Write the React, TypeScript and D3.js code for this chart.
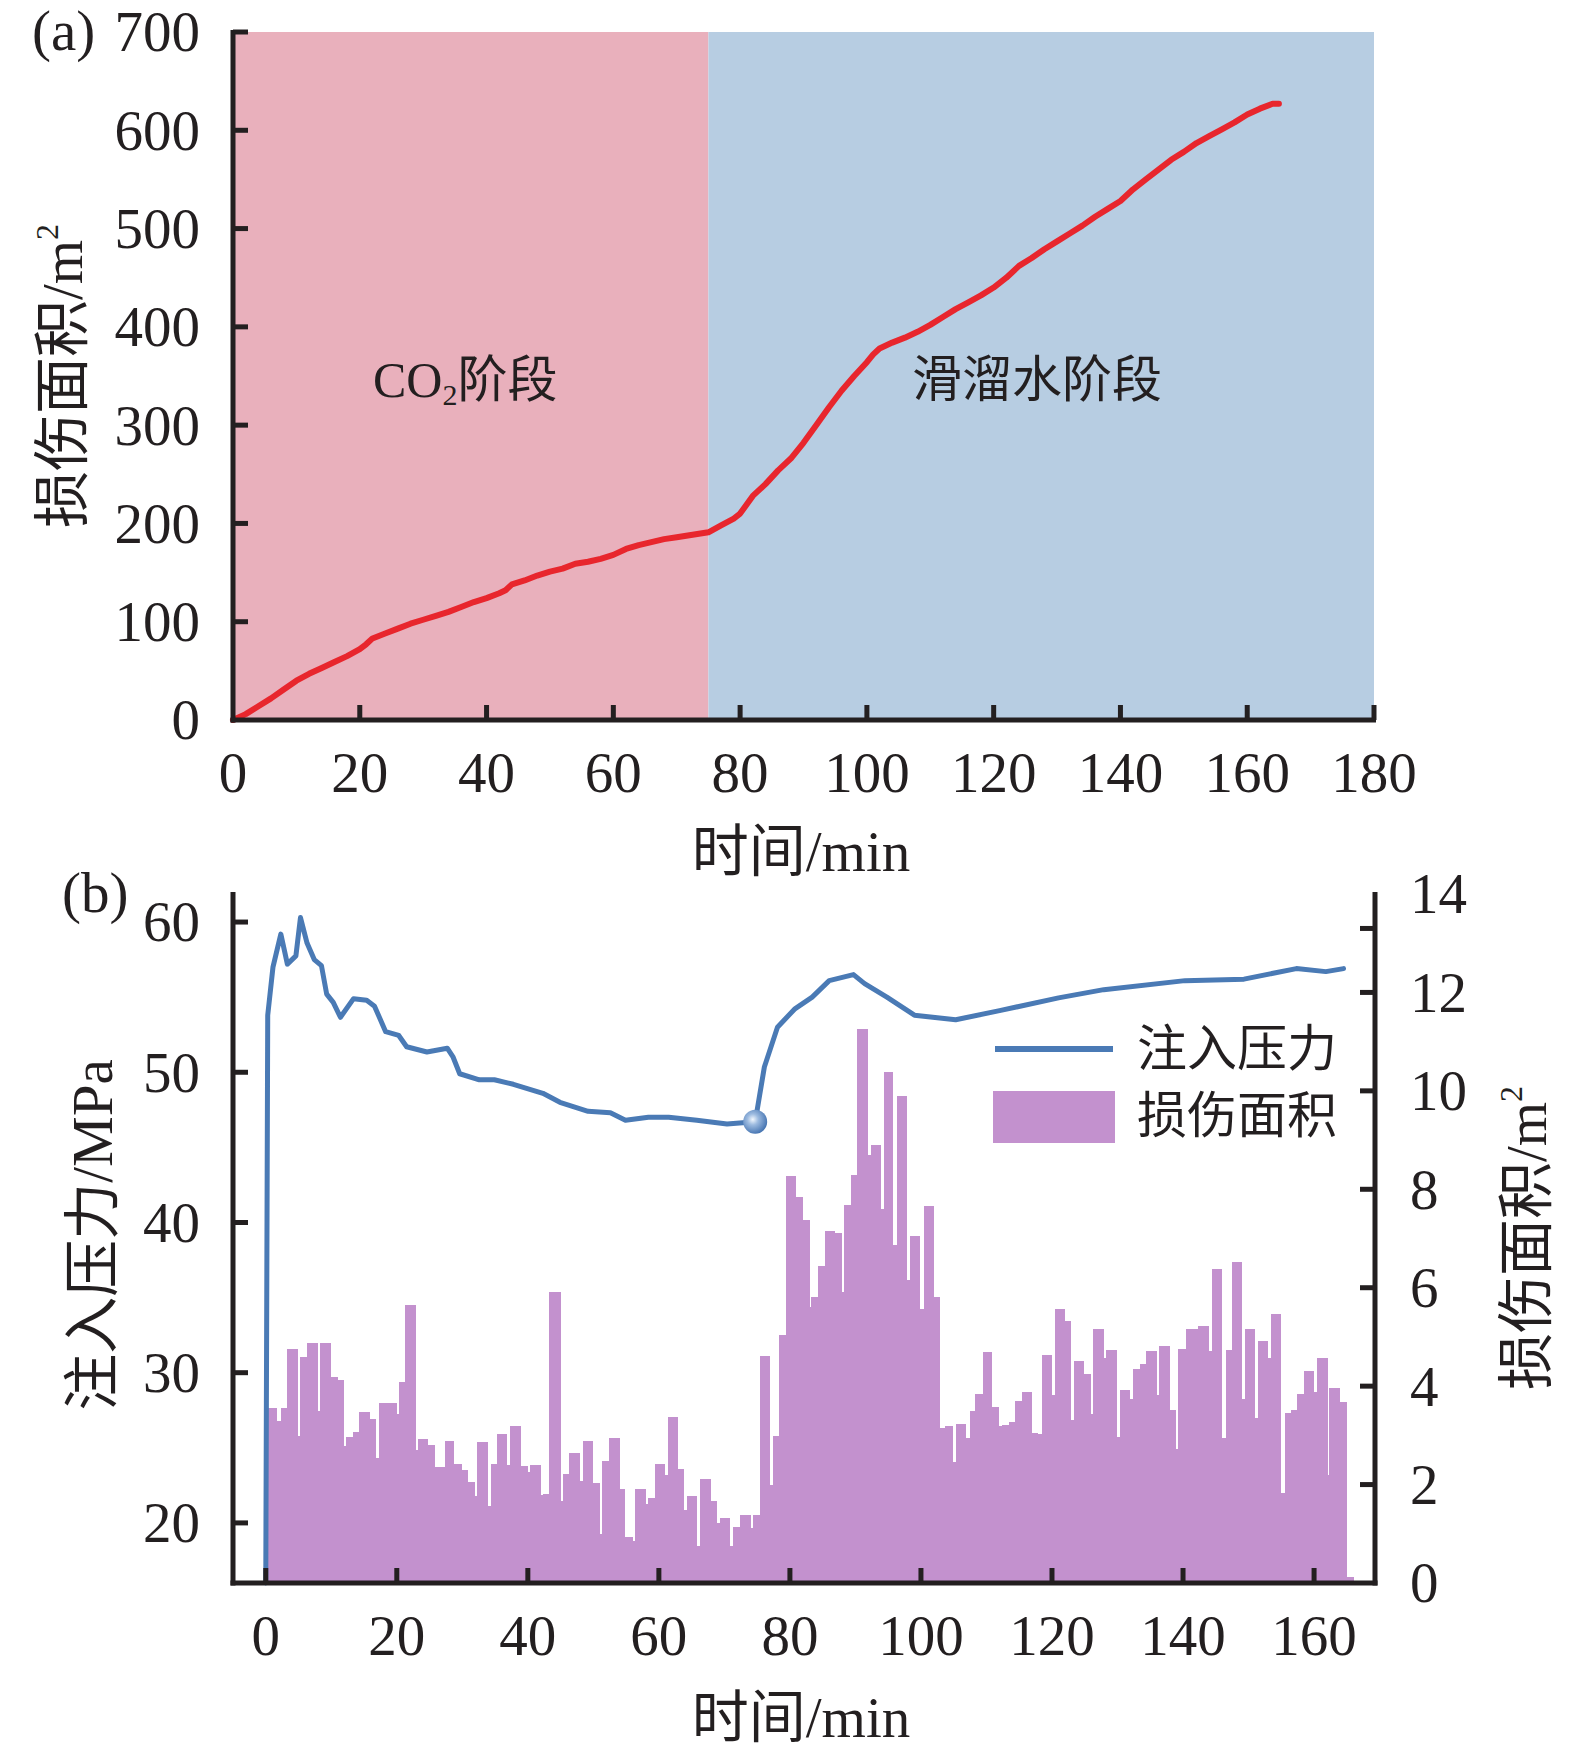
import React from "react";
import * as d3 from "d3";

// ---- Panel (a): cumulative damage area vs time ----
const areaTime = [0, 2, 4, 6, 8, 10, 12, 14, 16, 18, 20, 21, 22, 24, 26, 28, 30, 32, 34, 36, 38, 40, 42, 43, 44, 46, 48, 50, 52, 54, 56, 58, 60, 62, 64, 66, 68, 70, 72, 75, 77, 79, 80, 82, 84, 86, 88, 90, 92, 94, 96, 98, 100, 101, 102, 104, 106, 108, 110, 112, 114, 116, 118, 120, 122, 124, 126, 128, 130, 132, 134, 136, 138, 140, 142, 144, 146, 148, 150, 152, 154, 156, 158, 160, 162, 164, 165];
const areaValue = [0, 6, 14, 22, 31, 40, 47, 53, 59, 65, 72, 77, 83, 88, 93, 98, 102, 106, 110, 115, 120, 124, 129, 132, 138, 142, 147, 151, 154, 159, 161, 164, 168, 174, 178, 181, 184, 186, 188, 191, 198, 205, 210, 228, 240, 254, 266, 282, 300, 318, 335, 350, 364, 372, 378, 384, 389, 395, 402, 410, 418, 425, 432, 440, 450, 462, 470, 479, 487, 495, 503, 512, 520, 528, 540, 550, 560, 570, 578, 587, 594, 601, 608, 616, 622, 627, 627];
const topXTicks = [0, 20, 40, 60, 80, 100, 120, 140, 160, 180];
const topYTicks = [0, 100, 200, 300, 400, 500, 600, 700];
const stageBoundary = 75;

// ---- Panel (b): injection pressure & damage area per step ----
const pressureTime = [0, 0.3, 1.1, 2.3, 3.3, 4.6, 5.3, 6.3, 7.4, 8.5, 9.3, 10.3, 11.4, 13.4, 15.4, 16.6, 18.3, 20.3, 21.5, 24.6, 27.7, 28.6, 29.6, 32.6, 34.9, 37.8, 42.3, 44.9, 49.2, 52.6, 54.9, 58.4, 61.5, 65.8, 70.4, 74.7, 76.1, 78.1, 80.7, 83.4, 86, 89.7, 91.4, 94.8, 99, 105.3, 112, 121, 127.9, 140.3, 149.3, 157.3, 161.8, 164.5];
const pressureValue = [16, 53.8, 57, 59.2, 57.2, 57.75, 60.3, 58.6, 57.5, 57.1, 55.2, 54.65, 53.66, 54.9, 54.8, 54.4, 52.7, 52.45, 51.7, 51.35, 51.6, 51.0, 49.9, 49.5, 49.5, 49.2, 48.6, 48.0, 47.4, 47.3, 46.8, 47.0, 47.0, 46.8, 46.55, 46.7, 50.35, 53.0, 54.2, 55.0, 56.1, 56.5, 55.9, 55.0, 53.8, 53.5, 54.1, 54.95, 55.5, 56.1, 56.2, 56.9, 56.7, 56.9];
const markerTime = 74.7;
const markerValue = 46.7;

const damageEdges = [0, 1.7, 2.3, 3.3, 4.8, 5.2, 6.3, 7.9, 8.3, 9.8, 10.9, 11.8, 12.3, 13.3, 14.2, 15.8, 16.8, 17.3, 19.9, 20.3, 21.3, 22.8, 23.2, 24.7, 25.8, 27.4, 28.7, 29.8, 30.8, 31.8, 32.3, 33.9, 34.4, 35.3, 36.8, 37.3, 38.8, 39.9, 40.3, 41.9, 42.3, 43.2, 44.9, 45.3, 46.3, 47.8, 48.4, 49.8, 50.9, 51.3, 52.4, 53.9, 54.8, 55.9, 56.4, 57.9, 58.3, 59.4, 60.9, 61.4, 62.9, 63.8, 64.3, 65.8, 66.3, 67.9, 68.8, 69.3, 70.8, 71.3, 72.4, 73.9, 74.3, 75.4, 76.8, 77.4, 78.3, 79.4, 80.9, 81.9, 82.9, 83.2, 84.3, 85.3, 86.8, 87.8, 88.3, 89.3, 90.3, 91.8, 92.3, 93.8, 94.3, 95.7, 96.3, 97.8, 98.4, 99.7, 100.4, 101.9, 102.8, 103.7, 104.8, 105.3, 106.8, 107.5, 108.3, 109.4, 110.8, 111.8, 112.4, 113.4, 114.3, 115.4, 116.8, 117.8, 118.4, 119.9, 120.4, 121.9, 122.8, 123.4, 124.8, 125.8, 126.3, 127.8, 128.3, 129.8, 130.4, 131.8, 132.4, 133.4, 134.4, 135.9, 136.4, 137.9, 138.8, 139.3, 140.4, 142.3, 143.9, 144.4, 145.9, 146.5, 147.4, 148.9, 149.4, 150.9, 151.4, 152.9, 153.4, 154.9, 155.5, 156.5, 157.4, 158.4, 159.9, 160.4, 162.0, 162.3, 163.9, 165.0, 166.0];
const damageValues = [3.55, 3.29, 3.55, 4.76, 2.99, 4.59, 4.88, 3.5, 4.88, 4.18, 4.13, 2.79, 2.97, 3.07, 3.47, 3.33, 2.55, 3.65, 3.43, 4.08, 5.64, 2.71, 2.92, 2.81, 2.35, 2.89, 2.42, 2.30, 2.06, 1.76, 2.87, 1.56, 2.42, 3.03, 2.40, 3.19, 2.38, 2.26, 2.40, 1.78, 1.80, 5.92, 1.66, 2.22, 2.65, 2.08, 2.89, 2.03, 0.99, 2.48, 2.95, 1.92, 0.93, 0.86, 1.90, 1.60, 1.72, 2.42, 2.20, 3.37, 2.32, 1.49, 1.76, 0.75, 2.12, 1.66, 1.21, 1.33, 0.75, 1.13, 1.39, 1.11, 1.39, 4.61, 2.00, 2.99, 5.04, 8.28, 7.84, 7.37, 5.6, 5.81, 6.44, 7.15, 7.11, 5.92, 7.68, 8.30, 11.26, 8.70, 8.89, 7.59, 10.39, 6.86, 9.90, 6.16, 7.05, 5.56, 7.66, 5.81, 3.15, 3.20, 2.46, 3.23, 2.95, 3.49, 3.84, 4.70, 3.57, 3.19, 3.21, 3.28, 3.69, 3.89, 3.04, 3.03, 4.64, 3.82, 5.56, 5.33, 3.32, 4.52, 4.24, 3.43, 5.16, 4.58, 4.74, 2.97, 3.92, 3.74, 4.34, 4.45, 4.71, 3.83, 4.81, 3.51, 2.72, 4.75, 5.16, 5.23, 4.71, 6.38, 2.94, 4.73, 6.53, 3.74, 5.16, 3.36, 4.92, 4.58, 5.47, 1.82, 3.45, 3.51, 3.84, 4.30, 3.89, 4.57, 2.19, 3.96, 3.68, 0.12];
const botXTicks = [0, 20, 40, 60, 80, 100, 120, 140, 160];
const leftTicks = [20, 30, 40, 50, 60];
const rightLabels = [0, 2, 4, 6, 8, 10, 12, 14];
const rightTickMarks = [2, 4, 6, 8, 10, 12, 13.3];

const W = 1575;
const H = 1747;
const SERIF = "'Liberation Serif', 'Times New Roman', 'Noto Sans CJK SC', serif";
const AX = "#231f20";
const FS = 57;

export default function App() {
  // panel a scales
  const xa = d3.scaleLinear().domain([0, 180]).range([233, 1374]);
  const ya = d3.scaleLinear().domain([0, 700]).range([720, 32]);
  // panel b scales
  const xb = d3.scaleLinear().domain([-5, 169.3]).range([233, 1375]);
  const yl = d3.scaleLinear().domain([16, 62]).range([1583, 892]);
  const yr = d3.scaleLinear().domain([0, 14]).range([1583, 894]);

  const areaLine = d3
    .line<number>()
    .x((_, i) => xa(areaTime[i]))
    .y((d) => ya(d))(areaValue) as string;

  const pressLine = d3
    .line<number>()
    .x((_, i) => xb(pressureTime[i]))
    .y((d) => yl(d))(pressureValue) as string;

  const tickLen = 15;
  const axW = 5;

  return (
    <svg
      width={W}
      height={H}
      viewBox={`0 0 ${W} ${H}`}
      style={{ position: "absolute", left: 0, top: 0, display: "block", background: "#fff" }}
      fontFamily={SERIF}
    >
      <defs>
        <radialGradient id="ball" cx="40%" cy="40%" r="65%">
          <stop offset="0%" stopColor="#f2f7fd" />
          <stop offset="35%" stopColor="#9dbbe0" />
          <stop offset="100%" stopColor="#3f6fae" />
        </radialGradient>
      </defs>

      {/* ===== Panel (a) ===== */}
      <rect x={xa(0)} y={ya(700)} width={xa(stageBoundary) - xa(0)} height={ya(0) - ya(700)} fill="#e9b0bc" />
      <rect x={xa(stageBoundary)} y={ya(700)} width={xa(180) - xa(stageBoundary)} height={ya(0) - ya(700)} fill="#b7cde2" />
      <path d={areaLine} fill="none" stroke="#e8262d" strokeWidth={6} strokeLinejoin="round" strokeLinecap="round" />

      {/* axes a */}
      <line x1={xa(0)} y1={ya(700) - 2} x2={xa(0)} y2={ya(0) + axW / 2} stroke={AX} strokeWidth={axW} />
      <line x1={xa(0) - axW / 2} y1={ya(0)} x2={xa(180) + 2} y2={ya(0)} stroke={AX} strokeWidth={axW} />
      {topYTicks.map((t) => (
        <g key={"ya" + t}>
          {t > 0 && <line x1={xa(0)} x2={xa(0) + tickLen} y1={ya(t)} y2={ya(t)} stroke={AX} strokeWidth={axW} />}
          <text x={200} y={ya(t)} dy="0.34em" textAnchor="end" fontSize={FS} fill={AX}>
            {t}
          </text>
        </g>
      ))}
      {topXTicks.map((t) => (
        <g key={"xa" + t}>
          {t > 0 && <line x1={xa(t)} x2={xa(t)} y1={ya(0)} y2={ya(0) - tickLen} stroke={AX} strokeWidth={axW} />}
          <text x={xa(t)} y={792} textAnchor="middle" fontSize={FS} fill={AX}>
            {t}
          </text>
        </g>
      ))}
      <text x={32} y={50} fontSize={FS} fill={AX}>(a)</text>
      <text
        transform={`translate(62,376) rotate(-90)`}
        textAnchor="middle"
        dominantBaseline="central"
        fontSize={FS}
        fill={AX}
      >
        损伤面积/m<tspan fontSize={32} dy={-15}>2</tspan>
      </text>
      <text x={373} y={397} fontSize={50} fill={AX}>
        CO<tspan fontSize={30} dy={8}>2</tspan>
        <tspan dy={-8}>阶段</tspan>
      </text>
      <text x={912} y={397} fontSize={50} fill={AX}>滑溜水阶段</text>
      <text x={801} y={851} textAnchor="middle" dominantBaseline="central" fontSize={FS} fill={AX}>
        时间/min
      </text>

      {/* ===== Panel (b) ===== */}
      <g shapeRendering="crispEdges">
        {damageValues.map((v, i) => (
          <rect
            key={"bar" + i}
            x={xb(damageEdges[i])}
            y={yr(v)}
            width={xb(damageEdges[i + 1]) - xb(damageEdges[i]) + 0.6}
            height={yr(0) - yr(v)}
            fill="#c391ce"
          />
        ))}
      </g>
      <path d={pressLine} fill="none" stroke="#4a7ab5" strokeWidth={5} strokeLinejoin="round" strokeLinecap="round" />
      <circle cx={xb(markerTime)} cy={yl(markerValue)} r={12} fill="url(#ball)" />

      {/* axes b */}
      <line x1={233} y1={892} x2={233} y2={1583 + axW / 2} stroke={AX} strokeWidth={axW} />
      <line x1={1375} y1={892} x2={1375} y2={1583 + axW / 2} stroke={AX} strokeWidth={axW} />
      <line x1={233 - axW / 2} y1={1583} x2={1375 + axW / 2} y2={1583} stroke={AX} strokeWidth={axW} />
      {leftTicks.map((t) => (
        <g key={"yl" + t}>
          <line x1={233} x2={233 + tickLen} y1={yl(t)} y2={yl(t)} stroke={AX} strokeWidth={axW} />
          <text x={200} y={yl(t)} dy="0.34em" textAnchor="end" fontSize={FS} fill={AX}>
            {t}
          </text>
        </g>
      ))}
      {rightTickMarks.map((t) => (
        <line key={"yrt" + t} x1={1375} x2={1375 - tickLen} y1={yr(t)} y2={yr(t)} stroke={AX} strokeWidth={axW} />
      ))}
      {rightLabels.map((t) => (
        <text key={"yrl" + t} x={1410} y={yr(t)} dy="0.34em" textAnchor="start" fontSize={FS} fill={AX}>
          {t}
        </text>
      ))}
      {botXTicks.map((t) => (
        <g key={"xb" + t}>
          <line x1={xb(t)} x2={xb(t)} y1={1583} y2={1583 - tickLen} stroke={AX} strokeWidth={axW} />
          <text x={xb(t)} y={1655} textAnchor="middle" fontSize={FS} fill={AX}>
            {t}
          </text>
        </g>
      ))}
      <text x={62} y={912} fontSize={FS} fill={AX}>(b)</text>
      <text
        transform={`translate(92,1235) rotate(-90)`}
        textAnchor="middle"
        dominantBaseline="central"
        fontSize={FS}
        fill={AX}
      >
        注入压力/MPa
      </text>
      <text
        transform={`translate(1526,1238) rotate(-90)`}
        textAnchor="middle"
        dominantBaseline="central"
        fontSize={FS}
        fill={AX}
      >
        损伤面积/m<tspan fontSize={32} dy={-15}>2</tspan>
      </text>
      <text x={801} y={1717} textAnchor="middle" dominantBaseline="central" fontSize={FS} fill={AX}>
        时间/min
      </text>

      {/* legend */}
      <line x1={995} x2={1113} y1={1049} y2={1049} stroke="#4a7ab5" strokeWidth={6} />
      <text x={1137} y={1049} dominantBaseline="central" fontSize={50} fill={AX}>注入压力</text>
      <rect x={993} y={1091} width={122} height={52} fill="#c391ce" />
      <text x={1137} y={1116} dominantBaseline="central" fontSize={50} fill={AX}>损伤面积</text>
    </svg>
  );
}
